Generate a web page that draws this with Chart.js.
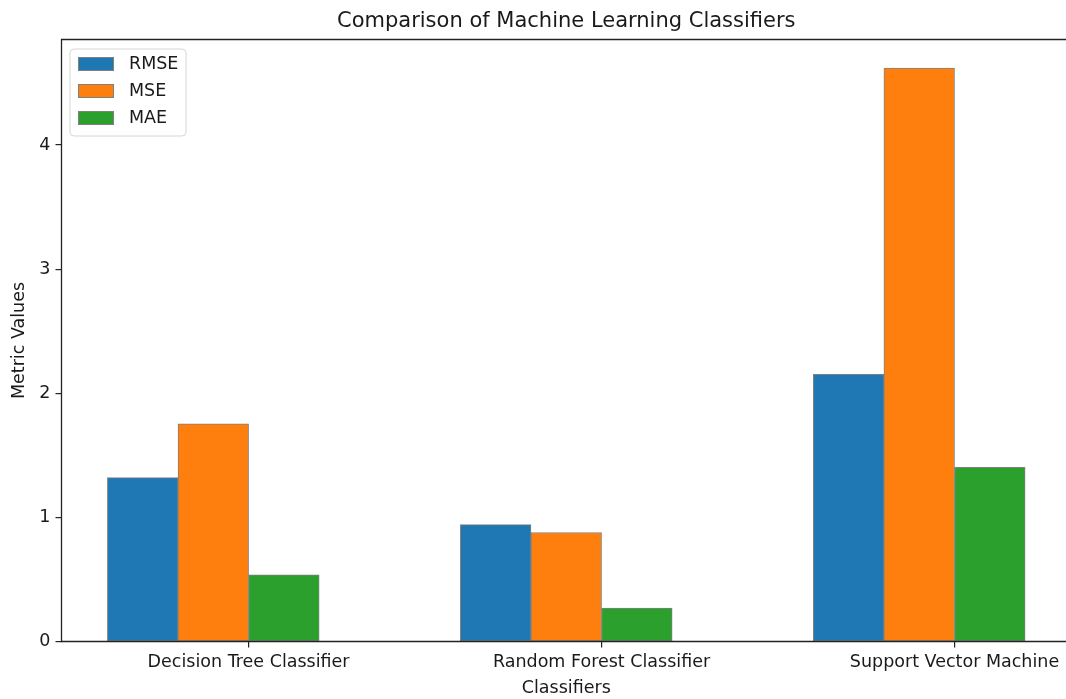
<!DOCTYPE html>
<html>
<head>
<meta charset="utf-8">
<script src="https://cdn.jsdelivr.net/npm/chart.js@4.4.0/dist/chart.umd.min.js"></script>
<style>
html, body { margin: 0; padding: 0; background: #fff; overflow: hidden; }
#wrap { width: 1066px; height: 699px; overflow: hidden; }
canvas { display: block; }
</style>
</head>
<body>
<div id="wrap"><canvas id="myChart" width="1080" height="699"></canvas></div>
<script>
// values
var categories = ['Decision Tree Classifier', 'Random Forest Classifier', 'Support Vector Machine'];
var rmse = [1.32, 0.942, 2.153];
var mse = [1.753, 0.878, 4.619];
var mae = [0.537, 0.269, 1.404];
var metricNames = ['RMSE', 'MSE', 'MAE'];
var yTicks = [0, 1, 2, 3, 4];

var colores = ['#1f77b4', '#ff7f0e', '#2ca02c'];
var fuente = 'DejaVu Sans';
var barWidth = 0.2;

// bars sit at i, i+w, i+2w ; tick labels at i+1.5w (as in the original plot)
function armarSerie(valores, k) {
    return valores.map(function (v, i) {
        return { x: i + k * barWidth, y: v };
    });
}

var series = [rmse, mse, mae];
var datasets = series.map(function (valores, k) {
    return {
        label: metricNames[k],
        data: armarSerie(valores, k),
        backgroundColor: colores[k],
        borderColor: 'grey',
        borderWidth: 1,
        borderSkipped: false,
        grouped: false,
        barPercentage: 1,
        categoryPercentage: 1
    };
});

// matplotlib style limits: 5% margin around the bar edges / top
var xLo = -barWidth / 2;
var xHi = (categories.length - 1) + 2.5 * barWidth;
var xPad = (xHi - xLo) * 0.05;
var yMax = Math.max.apply(null, rmse.concat(mse, mae)) * 1.05;
var tickPos = categories.map(function (c, i) { return i + 1.5 * barWidth; });

// left, top and bottom spines (the right one falls outside the picture)
var marco = {
    id: 'marco',
    afterDatasetsDraw: function (chart) {
        var ctx = chart.ctx, a = chart.chartArea;
        ctx.save();
        ctx.strokeStyle = '#222';
        ctx.lineWidth = 1.3;
        ctx.beginPath();
        ctx.moveTo(chart.width, a.top);
        ctx.lineTo(a.left, a.top);
        ctx.lineTo(a.left, a.bottom);
        ctx.lineTo(chart.width, a.bottom);
        ctx.stroke();
        ctx.restore();
    }
};

var leyenda = {
    id: 'leyenda',
    afterDraw: function (chart) {
        var ctx = chart.ctx, a = chart.chartArea;
        var x = a.left + 8.5, y = a.top + 9.5, w = 116, h = 87, r = 4;
        ctx.save();
        ctx.beginPath();
        ctx.moveTo(x + r, y);
        ctx.arcTo(x + w, y, x + w, y + h, r);
        ctx.arcTo(x + w, y + h, x, y + h, r);
        ctx.arcTo(x, y + h, x, y, r);
        ctx.arcTo(x, y, x + w, y, r);
        ctx.closePath();
        ctx.fillStyle = 'rgba(255,255,255,0.8)';
        ctx.fill();
        ctx.strokeStyle = '#d6d6d6';
        ctx.lineWidth = 1;
        ctx.stroke();

        ctx.font = '17.5px "' + fuente + '"';
        ctx.textBaseline = 'middle';
        ctx.textAlign = 'left';
        for (var k = 0; k < metricNames.length; k++) {
            var py = y + 8 + k * 27;
            ctx.fillStyle = colores[k];
            ctx.fillRect(x + 8, py, 36, 14);
            ctx.strokeStyle = 'grey';
            ctx.strokeRect(x + 8.5, py + 0.5, 35, 13);
            ctx.fillStyle = '#1a1a1a';
            ctx.fillText(metricNames[k], x + 59, py + 7.5);
        }
        ctx.restore();
    }
};

var ctx = document.getElementById('myChart');

var myChart = new Chart(ctx, {
    type: 'bar',
    data: { datasets: datasets },
    plugins: [marco, leyenda],
    options: {
        responsive: false,
        animation: false,
        layout: { padding: { left: 0, right: 9, top: 0, bottom: 0 } },
        plugins: {
            legend: { display: false },
            tooltip: { enabled: false },
            title: {
                display: true,
                text: 'Comparison of Machine Learning Classifiers',
                fullSize: false,
                color: '#1a1a1a',
                font: { family: fuente, size: 21, weight: 'normal', lineHeight: 1.2 },
                padding: { top: 9.4, bottom: 4.9 }
            }
        },
        scales: {
            x: {
                type: 'linear',
                offset: false,
                min: xLo - xPad,
                max: xHi + xPad,
                afterBuildTicks: function (scale) {
                    scale.ticks = tickPos.map(function (v) { return { value: v }; });
                },
                afterFit: function (scale) { scale.height = 57.5; },
                ticks: {
                    autoSkip: false,
                    maxRotation: 0,
                    minRotation: 0,
                    padding: 4,
                    color: '#1a1a1a',
                    font: { family: fuente, size: 17.5 },
                    callback: function (value, index) { return categories[index]; }
                },
                grid: {
                    offset: false,
                    drawOnChartArea: false,
                    drawTicks: true,
                    tickLength: 6,
                    color: '#222',
                    lineWidth: 1.2
                },
                border: { display: false },
                title: {
                    display: true,
                    text: 'Classifiers',
                    color: '#1a1a1a',
                    font: { family: fuente, size: 17.5, lineHeight: 1.2 },
                    padding: { top: 0, bottom: 0.5 }
                }
            },
            y: {
                min: 0,
                max: yMax,
                afterBuildTicks: function (scale) {
                    scale.ticks = yTicks.map(function (v) { return { value: v }; });
                },
                afterFit: function (scale) { scale.width = 61.5; },
                ticks: {
                    padding: 5,
                    color: '#1a1a1a',
                    font: { family: fuente, size: 17.5 }
                },
                grid: {
                    drawOnChartArea: false,
                    drawTicks: true,
                    tickLength: 6,
                    color: '#222',
                    lineWidth: 1.2
                },
                border: { display: false },
                title: {
                    display: true,
                    text: 'Metric Values',
                    color: '#1a1a1a',
                    font: { family: fuente, size: 17.5, lineHeight: 1.2 },
                    padding: { top: 8.5, bottom: 0 }
                }
            }
        }
    }
});
</script>
</body>
</html>
